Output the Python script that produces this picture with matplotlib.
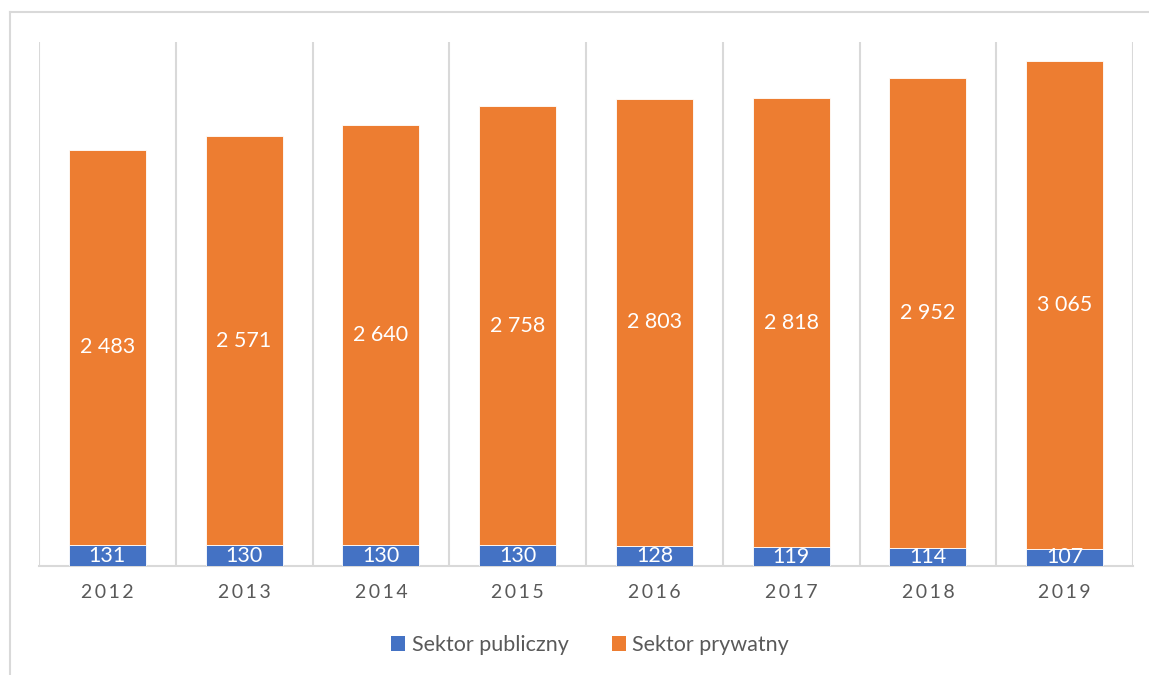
import matplotlib
matplotlib.use("Agg")
import matplotlib.pyplot as plt
from matplotlib.patches import Patch
from matplotlib.lines import Line2D

years = ["2012", "2013", "2014", "2015", "2016", "2017", "2018", "2019"]
publiczny = [131, 130, 130, 130, 128, 119, 114, 107]
prywatny = [2483, 2571, 2640, 2758, 2803, 2818, 2952, 3065]
series_names = ["Sektor publiczny", "Sektor prywatny"]

BLUE = "#4472C4"
ORANGE = "#ED7D31"
GRID = "#D9D9D9"
TXT = "#595959"
FAM = ["Lato", "DejaVu Sans"]

plt.rcParams["font.family"] = FAM

W, H = 1149, 675
fig = plt.figure(figsize=(W / 100, H / 100), dpi=100)
ax = fig.add_axes([39 / W, 1 - 566 / H, (1133 - 39) / W, (566 - 42) / H])

x = list(range(len(years)))
bw = 0.563
ax.bar(x, publiczny, width=bw, color=BLUE, edgecolor="white", linewidth=0.6, zorder=3)
ax.bar(x, prywatny, width=bw, bottom=publiczny, color=ORANGE, edgecolor="white", linewidth=0.6, zorder=3)

def fmt(v):
    return f"{v:,}".replace(",", " ")

for xi, p, q in zip(x, publiczny, prywatny):
    ax.text(xi, p / 2, fmt(p), ha="center", va="center", color="white", fontsize=15.5, zorder=4)
    ax.text(xi, p + q / 2, fmt(q), ha="center", va="center", color="white", fontsize=15.5, zorder=4)

ax.set_xlim(-0.5, len(years) - 0.5)
ax.set_ylim(0, 3290)
for b in [i - 0.5 for i in range(len(years) + 1)]:
    ax.axvline(b, color=GRID, lw=1.5, zorder=1)

for s in ["top", "right", "left"]:
    ax.spines[s].set_visible(False)
ax.spines["bottom"].set_color(GRID)
ax.spines["bottom"].set_linewidth(1.5)
ax.set_yticks([])
ax.set_xticks(x)
ax.set_xticklabels(["\u2009".join(y) for y in years], color=TXT, fontsize=14)
ax.tick_params(axis="x", length=0, pad=13)

handles = [Patch(facecolor=BLUE, edgecolor="none"), Patch(facecolor=ORANGE, edgecolor="none")]
fig.legend(handles, series_names, loc="center", bbox_to_anchor=(590 / W, 1 - 645 / H),
           ncol=2, frameon=False, fontsize=15.5, labelcolor=TXT,
           handlelength=0.65, handleheight=0.65, handletextpad=0.3, columnspacing=2.0)

# outer chart border (partially cropped in reference)
fig.add_artist(Line2D([10 / W, 1.0], [1 - 12 / H, 1 - 12 / H], transform=fig.transFigure, color=GRID, lw=1.5))
fig.add_artist(Line2D([10 / W, 10 / W], [0, 1 - 12 / H], transform=fig.transFigure, color=GRID, lw=1.5))

fig.savefig("out.png", dpi=100)
